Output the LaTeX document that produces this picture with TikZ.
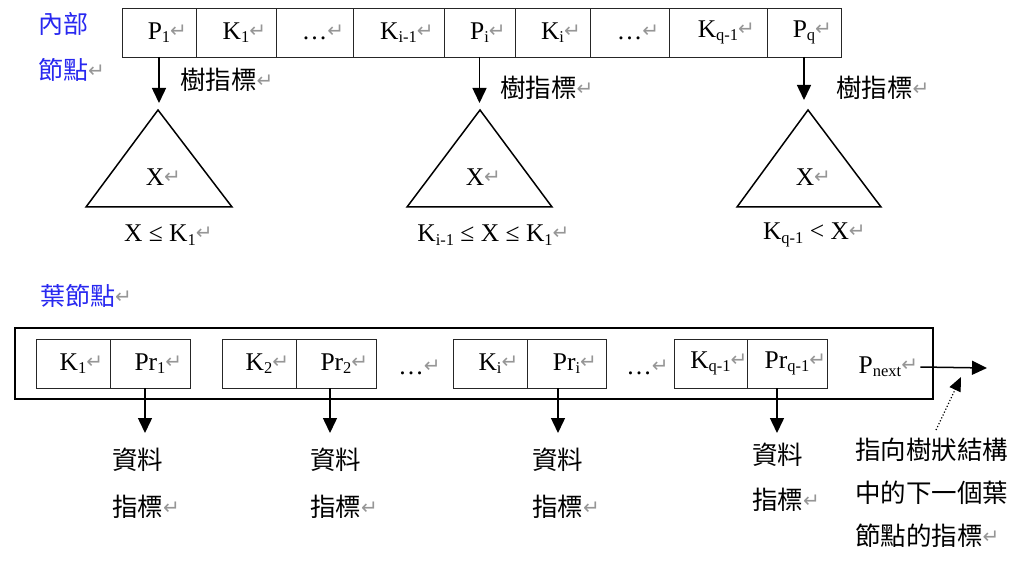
\documentclass[tikz,border=0pt]{standalone}
\usepackage{fontspec}
\setmainfont{Liberation Serif}
\newfontfamily\cjk{Noto Sans CJK TC}
\newfontfamily\dejavu{DejaVu Sans}
\usetikzlibrary{arrows.meta}
\definecolor{lblblue}{RGB}{40,40,240}
\definecolor{markgray}{RGB}{150,150,150}
\newcommand{\mysub}[1]{\raisebox{-0.13em}{\fontsize{16.5}{16.5}\selectfont #1}}
\newcommand{\rmark}{\rlap{\raisebox{2pt}{\fontsize{20}{20}\dejavu\textcolor{markgray}{↵}}}}
\tikzset{
  cell/.style={draw=black!85, line width=0.8pt, inner sep=0pt, outer sep=0pt, minimum height=49pt, font=\fontsize{25.5}{25.5}\selectfont},
  lat/.style={inner sep=0pt, outer sep=0pt, font=\fontsize{25.5}{25.5}\selectfont},
  cjklbl/.style={inner sep=0pt, outer sep=0pt, align=left, font=\cjk\fontsize{25.5}{47}\selectfont},
  bluelbl/.style={inner sep=0pt, outer sep=0pt, align=left, text=lblblue, font=\cjk\fontsize{25}{46}\selectfont},
  arr/.style={line width=1.5pt, -{Triangle[width=14pt,length=15pt]}},
  tri/.style={line width=1.5pt, line join=miter}
}
\begin{document}
\begin{tikzpicture}[x=1pt,y=-1pt]
\useasboundingbox (0,0) rectangle (1024,569);
% internal node label
\node[bluelbl, anchor=north west] (inl) at (38,12) {內部\\節點\rmark};
% internal node cells
\node[cell, minimum width=74pt] (p1) at (159,32.5) {P\mysub{1}\rmark};
\node[cell, minimum width=80pt] (k1) at (236,32.5) {K\mysub{1}\rmark};
\node[cell, minimum width=77pt] (d1) at (314.5,32.5) {…\rmark};
\node[cell, minimum width=91pt] (ki1) at (398.5,32.5) {K\mysub{i-1}\rmark};
\node[cell, minimum width=71pt] (pi) at (479.5,32.5) {P\mysub{i}\rmark};
\node[cell, minimum width=75pt] (ki) at (552.5,32.5) {K\mysub{i}\rmark};
\node[cell, minimum width=79pt] (d2) at (629.5,32.5) {…\rmark};
\node[cell, minimum width=98pt] (kq1) at (718,32.5) {K\mysub{q-1}\rmark};
\node[cell, minimum width=74pt] (pq) at (804,32.5) {P\mysub{q}\rmark};
% triangles
\coordinate (t1) at (158,110);
\coordinate (t2) at (480,110);
\coordinate (t3) at (808,110);
\draw[tri] (t1) -- (86,207) -- (232,207) -- cycle;
\draw[tri] (t2) -- (407,207) -- (552,207) -- cycle;
\draw[tri] (t3) -- (737,207) -- (881,207) -- cycle;
\node[lat] (x1) at (155,177) {X\rmark};
\node[lat] (x2) at (475,177) {X\rmark};
\node[lat] (x3) at (805,177) {X\rmark};
% arrows to subtrees
\draw[arr, shorten >=7pt] (p1.south) -- (p1.south |- t1);
\draw[arr, shorten >=7pt] (pi.south) -- (pi.south |- t2);
\draw[arr, shorten >=10pt] (pq.south) -- (pq.south |- t3);
\node[cjklbl, anchor=west] (tp1) at (180,80) {樹指標\rmark};
\node[cjklbl, anchor=west] (tp2) at (500,88) {樹指標\rmark};
\node[cjklbl, anchor=west] (tp3) at (836,88) {樹指標\rmark};
% ranges
\node[lat] (r1) at (160,235) {X ≤ K\mysub{1}\rmark};
\node[lat] (r2) at (485,235) {K\mysub{i-1} ≤ X ≤ K\mysub{1}\rmark};
\node[lat] (r3) at (806,235) {K\mysub{q-1} < X\rmark};
% leaf node
\node[bluelbl, anchor=north west] (lfl) at (40,284) {葉節點\rmark};
\node[draw, line width=1.8pt, inner sep=0pt, outer sep=0pt, minimum width=918pt, minimum height=71pt] (leaf) at (474,363.5) {};
\node[cell, minimum width=74pt] (lk1) at (73,363.5) {K\mysub{1}\rmark};
\node[cell, minimum width=80pt] (pr1) at (150,363.5) {Pr\mysub{1}\rmark};
\node[cell, minimum width=74pt] (lk2) at (259,363.5) {K\mysub{2}\rmark};
\node[cell, minimum width=80pt] (pr2) at (336,363.5) {Pr\mysub{2}\rmark};
\node[lat] (ld1) at (411,367) {…\rmark};
\node[cell, minimum width=74pt] (lki) at (490,363.5) {K\mysub{i}\rmark};
\node[cell, minimum width=79pt] (pri) at (566.5,363.5) {Pr\mysub{i}\rmark};
\node[lat] (ld2) at (639,367) {…\rmark};
\node[cell, minimum width=73pt] (lkq) at (710.5,363.5) {K\mysub{q-1}\rmark};
\node[cell, minimum width=80pt] (prq) at (787,363.5) {Pr\mysub{q-1}\rmark};
\node[lat] (pn) at (880,367) {P\mysub{next}\rmark};
% data pointers
\coordinate (e1) at (145,433);
\coordinate (e2) at (330,433);
\coordinate (e3) at (558,433);
\coordinate (e4) at (777,433);
\draw[arr] (pr1.south -| e1) -- (e1);
\draw[arr] (pr2.south -| e2) -- (e2);
\draw[arr] (pri.south -| e3) -- (e3);
\draw[arr] (prq.south -| e4) -- (e4);
\node[cjklbl, anchor=north west] (dp1) at (112,448) {資料\\指標\rmark};
\node[cjklbl, anchor=north west] (dp2) at (310,448) {資料\\指標\rmark};
\node[cjklbl, anchor=north west] (dp3) at (532,448) {資料\\指標\rmark};
\node[cjklbl, anchor=north west, font=\cjk\fontsize{25.5}{45}\selectfont] (dp4) at (752,443) {資料\\指標\rmark};
% next pointer
\coordinate (nx) at (987,368);
\draw[arr] ([xshift=19pt]pn.east) -- (nx);
\node[cjklbl, anchor=north west, font=\cjk\fontsize{25.5}{43}\selectfont] (note) at (855,438) {指向樹狀結構\\中的下一個葉\\節點的指標\rmark};
\coordinate (nt) at (936,430);
\coordinate (nh) at (961,377);
\draw[line width=1.2pt, dotted, -{Triangle[width=12pt,length=14pt]}] (nt) -- (nh);
\end{tikzpicture}
\end{document}
